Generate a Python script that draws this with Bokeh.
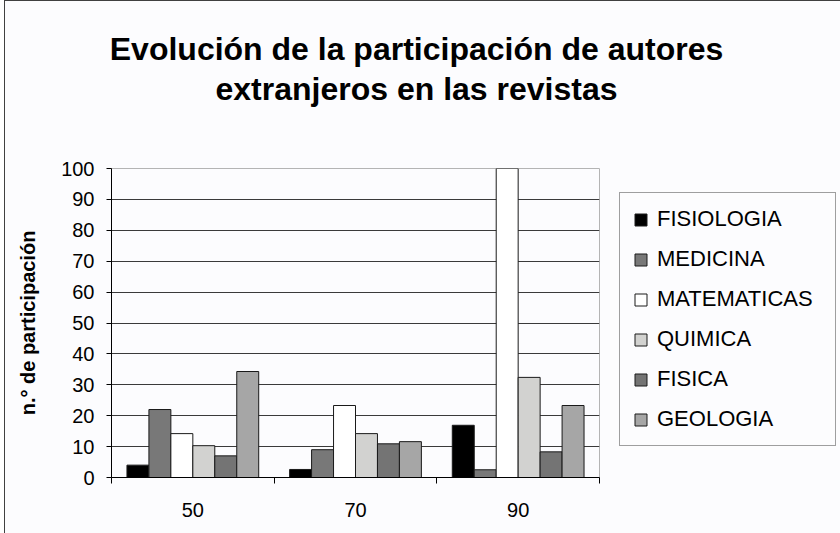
from bokeh.plotting import figure
from bokeh.layouts import column, row
from bokeh.models import (FactorRange, Range1d, LinearAxis, FixedTicker, Legend,
                          LegendItem, Label, ColumnDataSource)
from bokeh.transform import dodge
from bokeh.embed import file_html
from bokeh.resources import INLINE

# ---------------- data ----------------
years = ["50", "70", "90"]
series = ["FISIOLOGIA", "MEDICINA", "MATEMATICAS", "QUIMICA", "FISICA", "GEOLOGIA"]
fisiologia = [4.0, 2.6, 16.9]
medicina = [22.0, 9.0, 2.5]
matematicas = [14.2, 23.3, 100.0]
quimica = [10.3, 14.2, 32.4]
fisica = [7.0, 10.9, 8.3]
geologia = [34.3, 11.6, 23.3]
y_ticks = [0, 10, 20, 30, 40, 50, 60, 70, 80, 90, 100]

title_lines = ["Evolución de la participación de autores", "extranjeros en las revistas"]
y_label = "n.° de participación"

# ---------------- styles ----------------
colors = ["#000000", "#787878", "#ffffff", "#d2d2d0", "#747474", "#a6a6a6"]
BG = "#fcfcfe"
FONT = "Liberation Sans"
W = 835
TH = 150
CH = 533 - 1 - TH
PW = 595

# ---------------- title strip ----------------
t = figure(width=W, height=TH, x_range=Range1d(0, W), y_range=Range1d(0, TH),
           output_backend="svg", toolbar_location=None,
           x_axis_location=None, y_axis_location=None,
           min_border_left=0, min_border_right=0, min_border_top=0, min_border_bottom=0,
           background_fill_color=BG, border_fill_color=BG,
           outline_line_color=None, frame_align=False)
t.xgrid.grid_line_color = None
t.ygrid.grid_line_color = None
for line, yy in zip(title_lines, [103, 63]):
    t.add_layout(Label(x=411, y=yy, text=line,
                       text_align="center", text_baseline="alphabetic",
                       text_font=FONT, text_font_style="bold",
                       text_font_size="32px", text_color="black"))

# ---------------- chart ----------------
values = [fisiologia, medicina, matematicas, quimica, fisica, geologia]
src = ColumnDataSource(dict(year=years, **{s: v for s, v in zip(series, values)}))

p = figure(width=PW, height=CH, x_range=FactorRange(factors=years),
           y_range=Range1d(0, 100), output_backend="svg", toolbar_location=None,
           x_axis_location=None,
           min_border_left=106, min_border_right=1, min_border_top=17,
           min_border_bottom=56,
           background_fill_color=BG, border_fill_color=BG,
           outline_line_color="#b4b4b4", outline_line_width=1, frame_align=False)

# y axis
yax = p.yaxis[0]
yax.ticker = FixedTicker(ticks=y_ticks)
yax.axis_line_color = "black"
yax.major_tick_out = 5
yax.major_tick_in = 0
yax.minor_tick_line_color = None
yax.major_tick_line_color = "black"
yax.major_label_standoff = 12
yax.major_label_text_font = FONT
yax.major_label_text_font_size = "20px"
yax.major_label_text_color = "black"
yax.axis_label = y_label
yax.axis_label_text_font = FONT
yax.axis_label_text_font_style = "bold"
yax.axis_label_text_font_size = "20px"
yax.axis_label_text_color = "black"
yax.axis_label_standoff = 19

p.ygrid.grid_line_color = "#3a3a3a"
p.ygrid.grid_line_width = 1
p.xgrid.grid_line_color = None

# x axis: labels at category centres, ticks at category boundaries
n = len(years)
xax = LinearAxis(
    ticker=FixedTicker(ticks=[i + 0.5 for i in range(n)], minor_ticks=list(range(n + 1))),
    major_label_overrides={i + 0.5: y for i, y in enumerate(years)},
    axis_line_color="black",
    major_tick_line_color=None, major_tick_out=6, major_tick_in=0,
    minor_tick_line_color="black", minor_tick_out=6, minor_tick_in=0,
    major_label_standoff=19,
    major_label_text_font=FONT, major_label_text_font_size="20px",
    major_label_text_color="black",
)
p.add_layout(xax, "below")

# bars
w = 0.135
for i, (name, col) in enumerate(zip(series, colors)):
    off = (i - (len(series) - 1) / 2) * w
    p.vbar(x=dodge("year", off, range=p.x_range), top=name, width=w, source=src,
           fill_color=col, line_color="#1a1a1a", line_width=1)

# ---------------- legend panel ----------------
lg = figure(width=W - PW, height=CH, x_range=FactorRange(factors=years),
            y_range=Range1d(0, 100), output_backend="svg", toolbar_location=None,
            x_axis_location=None, y_axis_location=None,
            min_border_left=0, min_border_right=0, min_border_top=0, min_border_bottom=0,
            background_fill_color=BG, border_fill_color=BG,
            outline_line_color=None, frame_align=False)
lg.xgrid.grid_line_color = None
lg.ygrid.grid_line_color = None
items = []
for i, (name, col) in enumerate(zip(series, colors)):
    r = lg.vbar(x="year", top=name, width=w, source=src, fill_color=col,
                line_color="#1a1a1a", line_width=1, visible=False)
    items.append(LegendItem(label=name, renderers=[r]))

legend = Legend(items=items, location=(19, 87), orientation="vertical",
                click_policy="none",
                label_text_font=FONT, label_text_font_size="22px",
                label_text_color="black",
                glyph_width=15, glyph_height=15, label_height=24, spacing=14,
                padding=13, label_standoff=9, label_width=165, margin=0,
                border_line_color="#404040", border_line_width=1,
                background_fill_color=BG, background_fill_alpha=1)
lg.add_layout(legend)

layout = column(t, row(p, lg, spacing=0), spacing=0,
                styles={"margin-left": "4px", "margin-top": "0px",
                        "border-left": "1px solid #404040",
                        "border-top": "1px solid #404040",
                        "background-color": BG})

open("out.html", "w").write(file_html(layout, INLINE))
